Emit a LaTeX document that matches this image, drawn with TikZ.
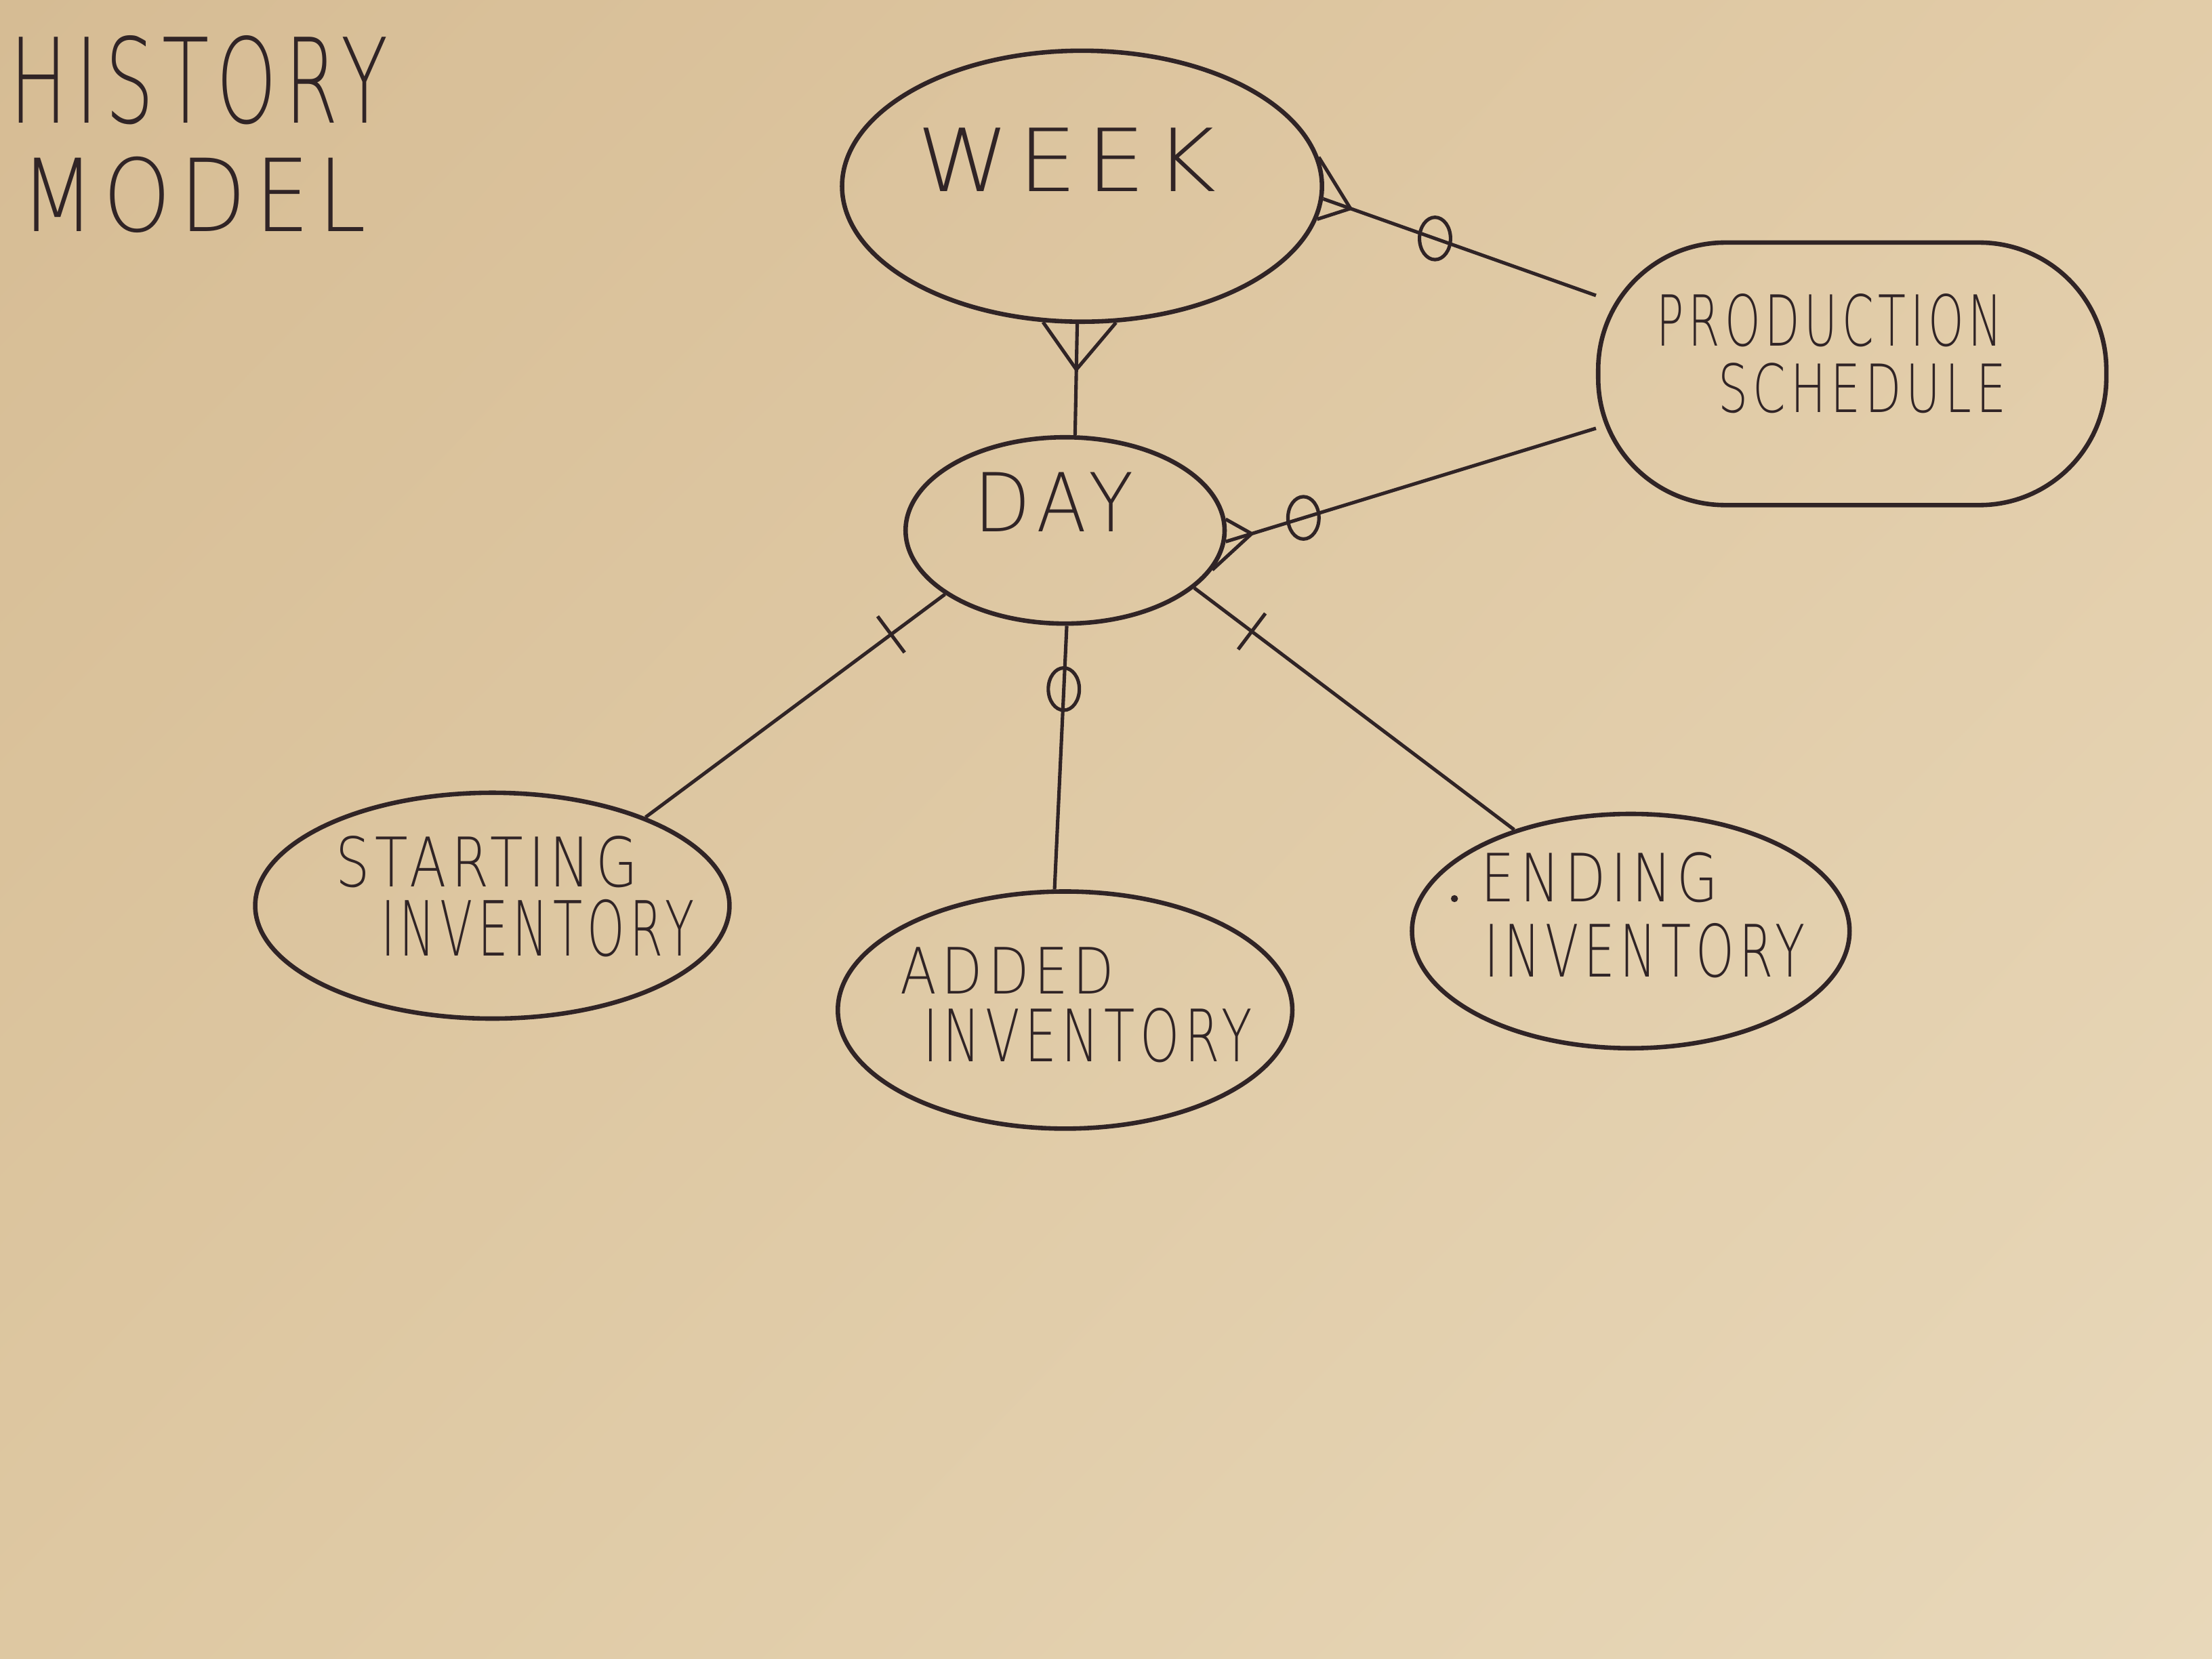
\documentclass[tikz,border=0pt]{standalone}
\usepackage{fontspec}
\usepackage{graphicx}
\usetikzlibrary{shapes.geometric,shadings}
\IfFontExistsTF{DejaVu Sans ExtraLight}{\newfontfamily\hand[LetterSpace=10]{DejaVu Sans ExtraLight}}{\newfontfamily\hand[LetterSpace=10]{DejaVu Sans}}
\newlength\unitpx
\setlength\unitpx{0.01cm}
\newcommand\hw[3]{\resizebox{#1\unitpx}{#2\unitpx}{\hand #3}}
\definecolor{ink}{RGB}{48,36,38}
\definecolor{paperTL}{RGB}{214,188,148}
\definecolor{paperTR}{RGB}{226,204,168}
\definecolor{paperBL}{RGB}{222,200,162}
\definecolor{paperBR}{RGB}{232,216,186}
\begin{document}
\begin{tikzpicture}[x=0.01cm,y=-0.01cm,
  ent/.style={draw=ink, line width=0.9pt, ellipse, inner sep=0pt},
  entbox/.style={draw=ink, line width=0.9pt, rectangle, rounded corners=0.9cm, inner sep=0pt},
  conn/.style={draw=ink, line width=0.7pt},
  txt/.style={inner sep=0pt, text=ink},
  optc/.style={draw=ink, line width=0.7pt, ellipse, minimum width=0.22cm, minimum height=0.3cm, inner sep=0pt},
  barmark/.style={draw=ink, line width=0.7pt, rectangle, minimum width=0pt, minimum height=0.32cm, inner sep=0pt},
  dotmark/.style={fill=ink, circle, minimum size=0.05cm, inner sep=0pt}]
\useasboundingbox (0,0) rectangle (1568,1176);
\shade[upper left=paperTL, upper right=paperTR, lower left=paperBL, lower right=paperBR] (0,0) rectangle (1568,1176);

% title
\node[txt] (t1) at (141,57) {\hw{268}{62}{HISTORY}};
\node[txt] (t2) at (137,138) {\hw{245}{53}{MODEL}};

% entities
\node[ent, minimum width=3.4cm, minimum height=1.92cm] (week) at (767,132) {};
\node[entbox, minimum width=3.6cm, minimum height=1.86cm] (prod) at (1313,265) {};
\node[ent, minimum width=2.26cm, minimum height=1.32cm] (day) at (755,376) {};
\node[ent, minimum width=3.36cm, minimum height=1.6cm] (start) at (349,642) {};
\node[ent, minimum width=3.22cm, minimum height=1.68cm] (added) at (755,716) {};
\node[ent, minimum width=3.1cm, minimum height=1.66cm] (ending) at (1156,660) {};

% labels
\node[txt] (lweek) at (756,113) {\hw{212}{45}{WEEK}};
\node[txt] (lprod1) at (1297,227) {\hw{245}{37}{PRODUCTION}};
\node[txt] (lprod2) at (1320,275) {\hw{204}{35}{SCHEDULE}};
\node[txt] (lday) at (747,356) {\hw{113}{42}{DAY}};
\node[txt] (lst1) at (345,611) {\hw{214}{36}{STARTING}};
\node[txt] (lst2) at (381,658) {\hw{222}{40}{INVENTORY}};
\node[txt] (lad1) at (714,688) {\hw{152}{33}{ADDED}};
\node[txt] (lad2) at (771,734) {\hw{233}{38}{INVENTORY}};
\node[txt] (len1) at (1134,622) {\hw{168}{35}{ENDING}};
\node[txt] (len2) at (1166,674) {\hw{227}{38}{INVENTORY}};
\node[dotmark] (dot1) at (1031,637) {};

% WEEK - DAY (many at WEEK)
\draw[conn] (week.268) -- (day.84) coordinate[pos=0.41] (cf1);
\draw[conn] (cf1) -- (week.254) (cf1) -- (week.284);

% WEEK - PRODUCTION SCHEDULE (many at WEEK, optional)
\draw[conn] (week.357) -- (prod.163.5) coordinate[pos=0.1] (cf2) node[optc, pos=0.41] (o1) {};
\draw[conn] (cf2) -- (week.7) (cf2) -- (week.352);

% DAY - PRODUCTION SCHEDULE (many at DAY, optional)
\draw[conn] (day.356) -- (prod.192.5) coordinate[pos=0.07] (cf3) node[optc, pos=0.21] (o2) {};
\draw[conn] (cf3) -- (day.4) (cf3) -- (day.345);

% DAY - STARTING INVENTORY (one)
\draw[conn] (day.208) -- (start.30) node[barmark, sloped, pos=0.18] (b1) {};

% DAY - ADDED INVENTORY (optional)
\draw[conn] (day.271) -- (added.95) node[optc, pos=0.24] (o3) {};

% DAY - ENDING INVENTORY (one)
\draw[conn] (day.336) -- (ending.139) node[barmark, sloped, pos=0.18] (b2) {};
\end{tikzpicture}
\end{document}
